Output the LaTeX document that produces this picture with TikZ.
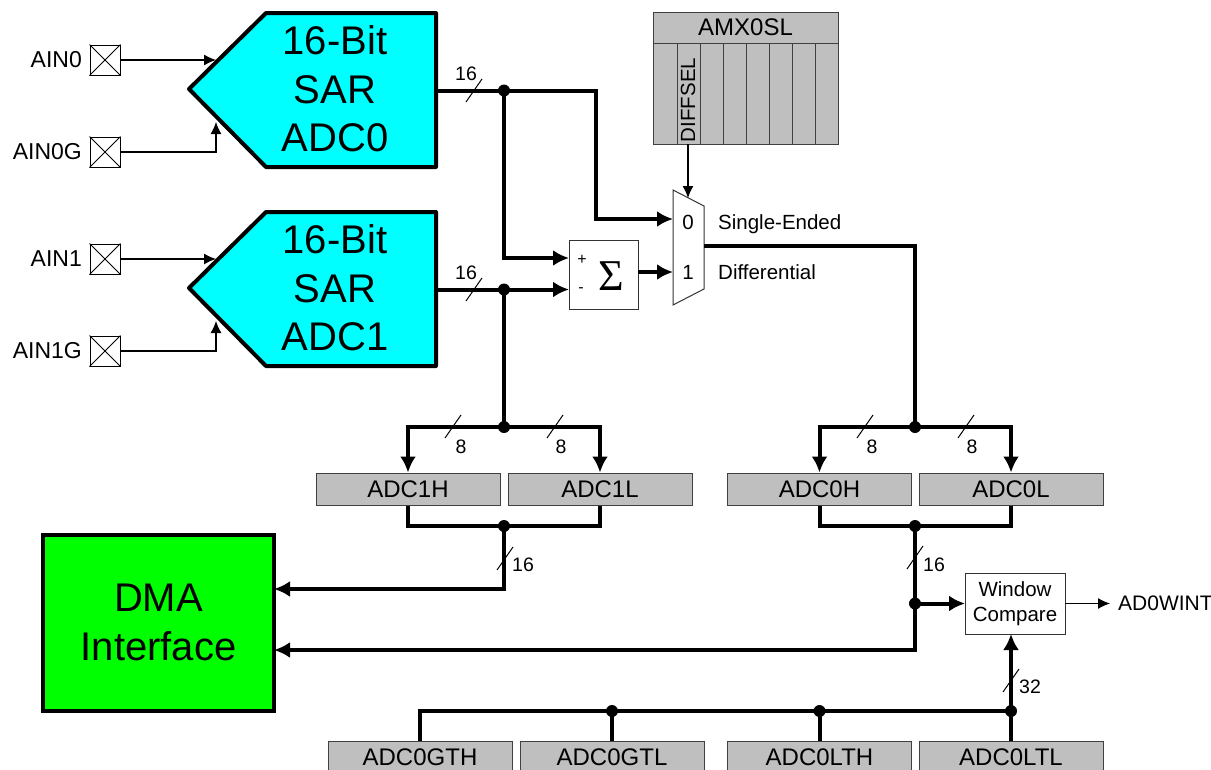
\documentclass[tikz,border=0pt]{standalone}
\usepackage{fontspec}
\setmainfont{Liberation Sans}
\newfontfamily\sigmafont{Liberation Serif}
\usetikzlibrary{arrows.meta,calc}
\definecolor{adccyan}{RGB}{0,255,255}
\definecolor{dmagreen}{RGB}{0,255,0}
\newcommand{\fsbig}{\fontsize{40}{48.5}\selectfont}
\newcommand{\fsreg}{\fontsize{24}{28}\selectfont}
\newcommand{\fspad}{\fontsize{23}{28}\selectfont}
\newcommand{\fssmall}{\fontsize{20.5}{25}\selectfont}
\newcommand{\fsbits}{\fontsize{19.5}{24}\selectfont}

\begin{document}
\begin{tikzpicture}[x=1pt,y=-1pt,
		adc/.style={fill=adccyan, draw=black, line width=4pt, line join=round},
		bigtext/.style={font=\fsbig, align=center, inner sep=0pt},
		pad/.style={draw=black, line width=1pt, minimum size=30pt, inner sep=0pt},
		padlabel/.style={font=\fspad, anchor=east, inner sep=0pt},
		reg/.style={draw=black!75, fill=black!25, line width=1pt, minimum width=184pt, minimum height=32pt, inner sep=0pt, font=\fsreg},
		dot/.style={circle, fill=black, minimum size=12pt, inner sep=0pt},
		small/.style={font=\fssmall, inner sep=0pt},
		bits/.style={font=\fsbits, inner sep=0pt},
		bus/.style={line width=4pt},
		busarrow/.style={line width=4pt, -{Latex[length=16pt,width=16pt]}},
		wirearrow/.style={line width=1.1pt, -{Latex[length=12pt,width=11pt]}},
		slash/.style={line width=1pt}
	]
	\useasboundingbox (0,0) rectangle (1211,769);
	\clip (0,0) rectangle (1211,769);

	% Converters
	\foreach \name/\y in {0/0, 1/199} {
		\begin{scope}[yshift=-\y pt]
			\draw[adc] (189,89) -- (266,13) -- (436,13) -- (436,167) -- (266,167) -- cycle;
			\node[bigtext] (adc\name) at (335,89) {16-Bit\\SAR\\ADC\name};
			\coordinate (adc\name out) at (436,90.5);
			\coordinate (adc\name a) at (216,60);
			\coordinate (adc\name b) at (216,122);
		\end{scope}
	}

	% Input pads
	\foreach \name/\lbl/\y in {p0/AIN0/60, p0g/AIN0G/152, p1/AIN1/259, p1g/AIN1G/351} {
		\node[pad] (\name) at (105,\y) {};
		\draw[line width=0.8pt] (\name.north west) -- (\name.south east) (\name.north east) -- (\name.south west);
		\node[padlabel] (\name l) at (82,\y) {\lbl};
	}
	\draw[wirearrow] (p0) -- (adc0a);
	\draw[wirearrow] (p0g) -| (adc0b);
	\draw[wirearrow] (p1) -- (adc1a);
	\draw[wirearrow] (p1g) -| (adc1b);

	% Select register
	\node[reg, minimum width=185pt, minimum height=31pt] (amx) at (745.5,27.5) {AMX0SL};
	\draw[draw=black!75, fill=black!25, line width=1pt] (653,43) rectangle (838,144);
	\foreach \x in {677,700,723,746,769,792,815} \draw[black!75, line width=1pt] (\x,43) -- (\x,144);
	\node[font=\fssmall, rotate=90, inner sep=0pt] (diffsel) at (688,100) {DIFFSEL};
	\coordinate (diffout) at (688,144);

	% Mux and sum
	\draw[fill=white, draw=black!80, line width=1pt] (673,190) -- (704,206) -- (704,289) -- (673,305) -- cycle;
	\node[small] (mux0) at (688,222) {0};
	\node[small] (mux1) at (688,272) {1};
	\node[small, anchor=base west] (single) at (718,229) {Single-Ended};
	\node[small, anchor=base west] (differ) at (718,279) {Differential};
	\coordinate (muxsel) at (688,198);
	\coordinate (muxa) at (673,219);
	\coordinate (muxb) at (673,272);
	\coordinate (muxout) at (704,246);
	\draw[wirearrow] (diffout) -- (muxsel);

	\node[draw=black!80, line width=1pt, outer sep=0pt, minimum size=69pt, inner sep=0pt] (sum) at (603.5,274.5) {};
	\node[inner sep=0pt, font=\fontsize{44}{44}\sigmafont] (sigma) at (611,276) {Σ};
	\node[inner sep=0pt, font=\fontsize{16}{16}\selectfont] (plus) at (582,260) {+};
	\node[inner sep=0pt, font=\fontsize{16}{16}\selectfont] (minus) at (581,290) {-};

	% Result registers
	\node[reg] (adc1h) at (408,489) {ADC1H};
	\node[reg] (adc1l) at (600,489) {ADC1L};
	\node[reg] (adc0h) at (819.5,489) {ADC0H};
	\node[reg] (adc0l) at (1011,489) {ADC0L};
	\node[reg] (gth) at (420,757) {ADC0GTH};
	\node[reg] (gtl) at (612,757) {ADC0GTL};
	\node[reg] (lth) at (819.5,757) {ADC0LTH};
	\node[reg] (ltl) at (1011,757) {ADC0LTL};

	% DMA and window compare
	\node[draw=black, fill=dmagreen, line width=4pt, outer sep=0pt, minimum width=231pt, minimum height=176pt, bigtext, inner sep=0pt] (dma) at (158.5,622.5) {DMA\\Interface};
	\node[draw=black!80, fill=white, line width=1pt, outer sep=0pt, minimum width=100pt, minimum height=61pt, align=center, small] (win) at (1015,603.5) {Window\\Compare};
	\coordinate (wintout) at (1110,603.5);
	\node[font=\fontsize{21}{25}\selectfont, inner sep=0pt, anchor=west] (wint) at (1118,603) {AD0WINT};
	\draw[wirearrow] (win) -- (wintout);

	% Junctions
	\node[dot] (j0) at (504,90.5) {};
	\node[dot] (j1) at (504,289.5) {};
	\node[dot] (j1r) at (504,427) {};
	\node[dot] (j0r) at (915,427) {};
	\node[dot] (j1m) at (504,526) {};
	\node[dot] (j0m) at (915,526) {};
	\node[dot] (jw) at (915,603.5) {};
	\node[dot] (jgtl) at (612,711) {};
	\node[dot] (jlth) at (819.5,711) {};
	\node[dot] (jltl) at (1011,711) {};

	% Buses
	\draw[busarrow] (adc0out) -- (j0.center) -- (596,90.5) |- (muxa);
	\draw[busarrow] (j0.center) -- (504,258) -- (sum.west |- 0,258);
	\draw[busarrow] (adc1out) -- (sum.west |- j1);
	\draw[busarrow] (sum.east |- muxb) -- (muxb);
	\draw[bus] (j1.center) -- (j1r.center);
	\draw[busarrow] (j1r.center) -| (adc1h.north);
	\draw[busarrow] (j1r.center) -| (adc1l.north);
	\draw[bus] (muxout) -| (j0r.center);
	\draw[busarrow] (j0r.center) -| (adc0h.north);
	\draw[busarrow] (j0r.center) -| (adc0l.north);
	\draw[bus] (adc1h.south) |- (j1m.center) -| (adc1l.south);
	\draw[bus] (adc0h.south) |- (j0m.center) -| (adc0l.south);
	\draw[busarrow] (j1m.center) |- (dma.east |- 0,589);
	\draw[busarrow] (j0m.center) |- (dma.east |- 0,650);
	\draw[busarrow] (jw.center) -- (win.west |- jw);
	\draw[bus] (gth.north) |- (jltl.center);
	\draw[bus] (gtl.north) -- (jgtl.center);
	\draw[bus] (lth.north) -- (jlth.center);
	\draw[busarrow] (ltl.north) -- (win.south -| ltl);

	% Bus widths
	\foreach \x/\y in {466/102, 466/301, 445/438, 547/438, 857/438, 958/438, 497/570, 907/569, 1003/692}
		\draw[slash] (\x,\y) -- ++(16,-23);
	\foreach \x/\y/\w [count=\i] in {466/74/16, 466/273/16, 461/447/8, 561/447/8, 872/447/8, 972/447/8, 523/565/16, 934/565/16, 1030/687/32}
		\node[bits] (width\i) at (\x,\y) {\w};
\end{tikzpicture}
\end{document}
